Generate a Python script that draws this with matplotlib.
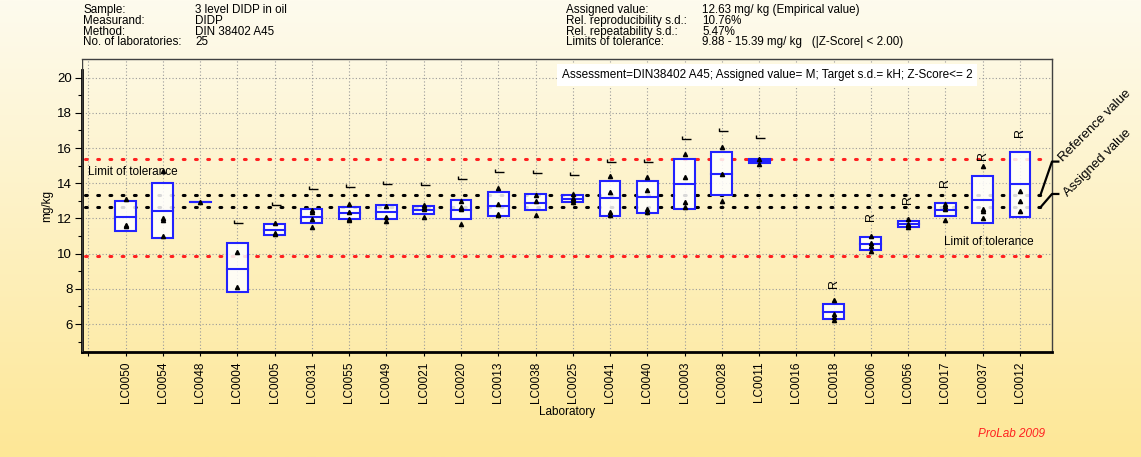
import numpy as np
import matplotlib
matplotlib.use("Agg")
import matplotlib.pyplot as plt
from matplotlib.patches import Rectangle

plt.rcParams.update({
    "font.family": ["Liberation Sans", "DejaVu Sans"],
    "font.size": 8,
})

# Data
labs = ["LC0050", "LC0054", "LC0048", "LC0004", "LC0005", "LC0031", "LC0055",
        "LC0049", "LC0021", "LC0020", "LC0013", "LC0038", "LC0025", "LC0041",
        "LC0040", "LC0003", "LC0028", "LC0011", "LC0016", "LC0018", "LC0006",
        "LC0056", "LC0017", "LC0037", "LC0012"]

nan = np.nan
box_low = [11.27, 10.87, 12.95, 7.81, 11.06, 11.73, 11.95, 11.99, 12.26, 11.99,
           12.12, 12.47, 12.92, 12.14, 12.33, 12.54, 13.32, 15.14, nan, 6.27,
           10.19, 11.53, 12.14, 11.74, 12.07]
box_high = [13.01, 14.00, 12.95, 10.59, 11.67, 12.54, 12.67, 12.79, 12.73, 13.07,
            13.49, 13.41, 13.35, 14.13, 14.13, 15.36, 15.80, 15.40, nan, 7.14,
            10.95, 11.88, 12.86, 14.40, 15.80]
box_mid = [12.07, 12.41, 12.95, 9.15, 11.35, 12.07, 12.29, 12.35, 12.47, 12.48,
           12.73, 12.88, 13.11, 13.16, 13.22, 13.94, 14.53, 15.27, nan, 6.69,
           10.55, 11.70, 12.48, 13.03, 13.94]

single_values = [
    [13.10, 11.65, 11.55],
    [14.70, 12.05, 11.90, 10.99],
    [12.95],
    [10.11, 8.13],
    [11.76, 11.19, 11.12],
    [12.48, 12.35, 11.99, 11.52],
    [12.81, 12.35, 11.99, 11.92],
    [12.71, 12.07, 11.86],
    [12.78, 12.64, 12.52, 12.07],
    [13.01, 12.64, 12.56, 11.67],
    [13.73, 12.81, 12.24, 12.18],
    [13.32, 13.01, 12.20],
    [13.41, 13.15, 13.05, 12.95],
    [14.40, 13.52, 12.35, 12.20],
    [14.34, 13.60, 12.54, 12.39],
    [15.68, 14.34, 12.92, 12.67],
    [16.05, 14.53, 13.01],
    [15.40, 15.11],
    [],
    [7.39, 6.56, 6.42, 6.23],
    [11.02, 10.59, 10.45, 10.14],
    [11.99, 11.70, 11.60, 11.50],
    [12.82, 12.70, 12.55, 11.91],
    [15.00, 12.54, 12.41, 12.05],
    [13.56, 12.99, 12.43],
]

# marks above the boxes: "L" hook or "R" letter
mark_kind = ["", "", "", "L", "L", "L", "L", "L", "L", "L", "L", "L", "L", "L",
             "L", "L", "L", "L", "", "R", "R", "R", "R", "R", "R"]
mark_y = [nan, nan, nan, 11.73, 12.79, 13.66, 13.81, 13.96, 13.90, 14.23, 14.62,
          14.57, 14.47, 15.23, 15.23, 16.50, 16.97, 16.56, nan, 8.32, 12.10,
          13.05, 14.03, 15.55, 16.88]

assigned = 12.63
reference = 13.33
tol_low, tol_high = 9.88, 15.39

BLUE = "#2222ff"
RED = "#ff2020"

W, H = 1141, 457
fig = plt.figure(figsize=(W / 100, H / 100), dpi=100)

# background gradient
bg = fig.add_axes([0, 0, 1, 1], zorder=-10)
grad = np.linspace(0, 1, 256)[:, None]
top = np.array([254, 251, 238]) / 255
bot = np.array([253, 231, 150]) / 255
img = top[None, None, :] * (1 - grad[:, :, None]) + bot[None, None, :] * grad[:, :, None]
bg.imshow(img, aspect="auto", extent=[0, 1, 0, 1])
bg.axis("off")

ax = fig.add_axes([82 / W, 1 - 352 / H, (1052 - 82) / W, (352 - 59) / H])
ax.set_facecolor("none")
ax.set_xlim(-0.17, 25.86)
ax.set_ylim(4.41, 21.06)

x = np.arange(1, len(labs) + 1)

# grid
for xv in range(0, len(labs) + 1):
    ax.axvline(xv, color="#9a9a9a", lw=0.8, ls=(0, (1, 2)), zorder=1)
for yv in range(6, 22, 2):
    ax.axhline(yv, color="#9a9a9a", lw=0.8, ls=(0, (1, 2)), zorder=1)

# reference lines
dots = dict(lw=2.2, ls=(0, (0.6, 3.4)), dash_capstyle="round", zorder=2)
for yv, c in [(tol_low, RED), (tol_high, RED), (assigned, "black"), (reference, "black")]:
    ax.plot([-0.1, 25.6], [yv, yv], color=c, **dots)

# boxes
bw = 0.56
for xi, lo, hi, md in zip(x, box_low, box_high, box_mid):
    if np.isnan(lo):
        continue
    ax.add_patch(Rectangle((xi - bw / 2, lo), bw, hi - lo, facecolor="white",
                           alpha=0.85, edgecolor="none", zorder=3))
    ax.add_patch(Rectangle((xi - bw / 2, lo), bw, hi - lo, facecolor="none",
                           edgecolor=BLUE, lw=1.5, zorder=4))
    ax.plot([xi - bw / 2, xi + bw / 2], [md, md], color=BLUE, lw=1.5, zorder=4)

# single values
for xi, vals in zip(x, single_values):
    if vals:
        ax.plot([xi] * len(vals), vals, ls="none", marker="^", ms=3.0,
                color="black", zorder=5)

# marks
hook = [(-2.5, 3.2), (-2.5, 0), (5.5, 0)]
for xi, k, my in zip(x, mark_kind, mark_y):
    if k == "L":
        ax.plot(xi, my, ls="none", marker=hook, ms=8, mfc="none",
                mec="black", mew=1.0, zorder=5)
    elif k == "R":
        ax.text(xi, my, "R", rotation=90, ha="center", va="center",
                fontsize=9, zorder=5)

# axes styling
for s in ["top", "right"]:
    ax.spines[s].set_color("#404040")
    ax.spines[s].set_linewidth(1.0)
ax.spines["bottom"].set_linewidth(2.0)
ax.spines["left"].set_linewidth(2.0)
ax.spines["left"].set_bounds(4.41, 20.45)
ax.axvline(-0.17, color="#404040", lw=1.0, zorder=6)

ax.set_yticks(range(6, 22, 2))
ax.set_yticks(range(5, 21, 2), minor=True)
ax.tick_params(axis="y", labelsize=9.5, length=5, width=0.8, pad=2)
ax.tick_params(axis="y", which="minor", length=3, width=0.8)
ax.set_xticks(range(0, len(labs) + 1))
ax.set_xticklabels([""] + labs, rotation=90, fontsize=8.5)
ax.tick_params(axis="x", length=3, width=0.8, pad=4)

ax.set_ylabel("mg/kg", fontsize=8.5, labelpad=3)
ax.set_xlabel("Laboratory", fontsize=8.5, labelpad=2)

# in-plot text
ax.text(0.4945, 0.946, "Assessment=DIN38402 A45; Assigned value= M; Target s.d.= kH; Z-Score<= 2",
        transform=ax.transAxes, fontsize=8.5, va="center", ha="left",
        bbox=dict(facecolor="white", edgecolor="none", pad=3.5), zorder=7)
ax.text(0.0, tol_high - 0.73, "Limit of tolerance", fontsize=8.5, va="center",
        ha="left", zorder=7)
ax.text(22.96, tol_low + 0.8, "Limit of tolerance", fontsize=8.5, va="center",
        ha="left", zorder=7)

# brackets to the right
ax.plot([25.55, 25.86, 26.03], [reference, reference + 1.9, reference + 1.9],
        color="black", lw=1.6, clip_on=False, zorder=7)
ax.plot([25.55, 25.86, 26.03], [assigned, assigned + 0.76, assigned + 0.76],
        color="black", lw=1.6, clip_on=False, zorder=7)
ax.text(26.2, reference + 1.75, "Reference value", rotation=45, fontsize=9.5,
        ha="left", va="bottom", rotation_mode="anchor", clip_on=False)
ax.text(26.35, assigned + 0.45, "Assigned value", rotation=45, fontsize=9.5,
        ha="left", va="bottom", rotation_mode="anchor", clip_on=False)

# header
hdr_left = [("Sample:", "3 level DIDP in oil"),
            ("Measurand:", "DIDP"),
            ("Method:", "DIN 38402 A45"),
            ("No. of laboratories:", "25")]
hdr_right = [("Assigned value:", "12.63 mg/ kg (Empirical value)"),
             ("Rel. reproducibility s.d.:", "10.76%"),
             ("Rel. repeatability s.d.:", "5.47%"),
             ("Limits of tolerance:", "9.88 - 15.39 mg/ kg   (|Z-Score| < 2.00)")]
for i, (k, v) in enumerate(hdr_left):
    yy = 1 - (10 + 10.8 * i) / H
    fig.text(83 / W, yy, k, fontsize=8.4, va="center")
    fig.text(195 / W, yy, v, fontsize=8.4, va="center")
for i, (k, v) in enumerate(hdr_right):
    yy = 1 - (10 + 10.8 * i) / H
    fig.text(566 / W, yy, k, fontsize=8.4, va="center")
    fig.text(702 / W, yy, v, fontsize=8.4, va="center")

fig.text(1012 / W, 1 - 434 / H, "ProLab 2009", color=RED, fontsize=8.5,
         style="italic", ha="center", va="center")

fig.savefig("out.png", dpi=100)
